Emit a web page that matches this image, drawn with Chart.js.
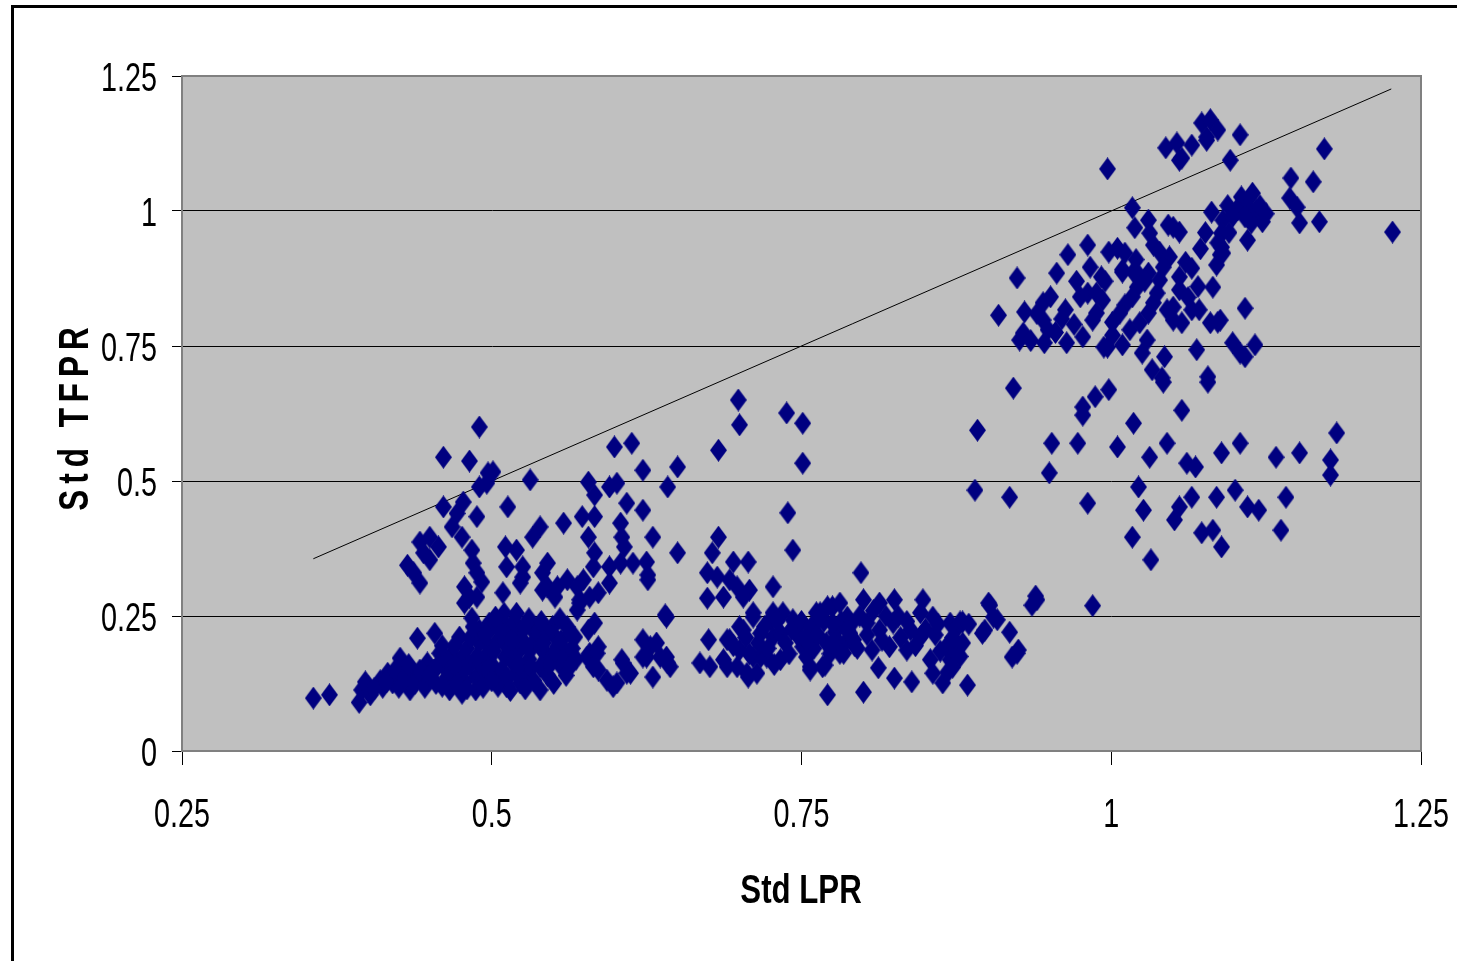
<!DOCTYPE html>
<html>
<head>
<meta charset="utf-8">
<title>Std LPR vs Std TFPR</title>
<script src="https://cdn.jsdelivr.net/npm/chart.js@4.4.1/dist/chart.umd.min.js"></script>
<style>
  html, body { margin: 0; padding: 0; background: #fff; }
  #wrap { width: 1457px; height: 961px; position: relative; }
</style>
</head>
<body>
<div id="wrap"><canvas id="chart"></canvas></div>
<script>
// axis ticks
const xTicks = [0.25, 0.5, 0.75, 1, 1.25];
const xTickLabels = ['0.25', '0.5', '0.75', '1', '1.25'];
const yTicks = [0, 0.25, 0.5, 0.75, 1, 1.25];
const yTickLabels = ['0', '0.25', '0.5', '0.75', '1', '1.25'];

// 45 degree reference line (Std TFPR = Std LPR)
const lineLpr = [0.356, 1.226];

// [Std LPR, Std TFPR], by cluster
const lowLeft = [
  [0.356,0.098],[0.369,0.104],[0.393,0.090],[0.395,0.113],[0.400,0.120],[0.402,0.104],[0.398,0.128],
  [0.410,0.130],[0.412,0.118],[0.416,0.144],[0.420,0.126],[0.426,0.172],[0.428,0.140],[0.434,0.113],
  [0.437,0.144],[0.440,0.209],[0.445,0.131],[0.448,0.163],[0.453,0.150],[0.454,0.218],[0.458,0.181],
  [0.462,0.155],[0.464,0.137],[0.466,0.113],[0.468,0.180],[0.472,0.140],[0.474,0.211],[0.476,0.174],
  [0.476,0.107],[0.405,0.115],[0.415,0.128],[0.422,0.150],[0.425,0.118],[0.430,0.135],[0.433,0.160],
  [0.438,0.125],[0.442,0.150],[0.446,0.118],[0.450,0.140],[0.455,0.125],[0.457,0.160],[0.460,0.120],
  [0.463,0.170],[0.467,0.150],[0.470,0.195],[0.460,0.195]
];
const denseBlob = [
  [0.484,0.246],[0.487,0.113],[0.487,0.137],[0.490,0.224],[0.493,0.156],[0.498,0.193],[0.498,0.237],
  [0.504,0.137],[0.505,0.206],[0.511,0.174],[0.512,0.119],[0.517,0.163],[0.509,0.239],[0.523,0.126],
  [0.523,0.218],[0.531,0.187],[0.533,0.224],[0.539,0.156],[0.539,0.113],[0.549,0.230],[0.557,0.193],
  [0.562,0.156],[0.567,0.211],[0.490,0.200],[0.500,0.160],[0.510,0.200],[0.515,0.222],[0.520,0.180],
  [0.525,0.200],[0.530,0.170],[0.535,0.205],[0.545,0.175],[0.550,0.215],[0.555,0.160],[0.545,0.140],
  [0.500,0.230],[0.495,0.175],[0.505,0.120],[0.520,0.145],[0.510,0.255],[0.530,0.245],[0.555,0.245],
  [0.480,0.190],[0.482,0.160],[0.478,0.128],[0.528,0.140],[0.515,0.190],[0.540,0.190],[0.545,0.218],
  [0.553,0.193],[0.478,0.150],[0.483,0.210],[0.488,0.175],[0.492,0.128],[0.495,0.215],[0.497,0.150],
  [0.502,0.185],[0.506,0.225],[0.508,0.150],[0.513,0.135],[0.516,0.205],[0.518,0.240],[0.522,0.160],
  [0.526,0.230],[0.528,0.195],[0.532,0.155],[0.534,0.130],[0.537,0.220],[0.542,0.200],[0.547,0.160],
  [0.551,0.185],[0.556,0.205],[0.559,0.175],[0.561,0.230],[0.565,0.190],[0.568,0.170],[0.470,0.160],
  [0.472,0.125],[0.480,0.115],[0.493,0.118],[0.500,0.130],[0.515,0.112],[0.527,0.115],[0.550,0.125],
  [0.560,0.140],[0.485,0.230],[0.503,0.248],[0.520,0.255],[0.540,0.240]
];
const lowMid = [
  [0.563,0.218],[0.563,0.156],[0.579,0.181],[0.583,0.237],[0.578,0.224],[0.586,0.193],[0.586,0.150],
  [0.593,0.131],[0.601,0.126],[0.605,0.169],[0.609,0.144],[0.622,0.206],[0.622,0.174],[0.628,0.193],
  [0.630,0.137],[0.636,0.174],[0.644,0.156],[0.640,0.252],[0.577,0.174],[0.585,0.181],[0.582,0.156],
  [0.598,0.119],[0.606,0.163],[0.612,0.144],[0.633,0.200],[0.625,0.174],[0.641,0.174],[0.642,0.163],
  [0.668,0.163],[0.675,0.206],[0.676,0.156],[0.690,0.206],[0.690,0.156],[0.700,0.230],[0.706,0.144],
  [0.711,0.256],[0.717,0.174],[0.725,0.243],[0.727,0.211],[0.733,0.169],[0.735,0.256],[0.746,0.218],
  [0.751,0.193],[0.757,0.156],[0.762,0.256],[0.711,0.248],[0.727,0.256],[0.703,0.224],[0.692,0.206],
  [0.717,0.218],[0.700,0.187],[0.711,0.174],[0.687,0.169],[0.698,0.156],[0.707,0.137],[0.714,0.144],
  [0.722,0.174],[0.733,0.218],[0.743,0.243],[0.748,0.211],[0.754,0.174],[0.767,0.156],[0.771,0.104],
  [0.765,0.256],[0.775,0.267],[0.787,0.248],[0.780,0.200],[0.789,0.218],[0.784,0.181],[0.641,0.248],
  [0.695,0.195],[0.705,0.210],[0.708,0.180],[0.715,0.200],[0.720,0.230],[0.723,0.190],[0.728,0.160],
  [0.730,0.240],[0.737,0.200],[0.740,0.180],[0.742,0.225],[0.750,0.240],[0.753,0.210],[0.758,0.230],
  [0.760,0.190],[0.763,0.215],[0.768,0.240],[0.770,0.200],[0.773,0.180],[0.777,0.220],[0.782,0.240],
  [0.785,0.200],[0.790,0.235],[0.793,0.195],[0.797,0.250]
];
const lowRight = [
  [0.798,0.330],[0.771,0.267],[0.781,0.274],[0.765,0.248],[0.800,0.280],[0.813,0.274],[0.825,0.280],
  [0.848,0.280],[0.846,0.256],[0.856,0.248],[0.870,0.237],[0.878,0.239],[0.901,0.274],[0.908,0.243],
  [0.896,0.218],[0.918,0.220],[0.924,0.181],[0.920,0.174],[0.754,0.206],[0.757,0.150],[0.769,0.159],
  [0.800,0.109],[0.781,0.181],[0.792,0.206],[0.807,0.187],[0.812,0.154],[0.821,0.193],[0.825,0.135],
  [0.835,0.187],[0.839,0.128],[0.846,0.211],[0.854,0.169],[0.856,0.144],[0.864,0.126],[0.867,0.193],
  [0.870,0.169],[0.868,0.146],[0.884,0.122],[0.775,0.237],[0.787,0.224],[0.803,0.237],[0.813,0.224],
  [0.824,0.237],[0.838,0.224],[0.775,0.200],[0.874,0.187],[0.876,0.230],[0.898,0.224],[0.902,0.270],
  [0.939,0.287],[0.940,0.280],[0.936,0.270],[0.985,0.269],[0.905,0.248],[0.925,0.187],[0.880,0.239],
  [0.795,0.190],[0.815,0.205],[0.830,0.210],[0.803,0.215],[0.808,0.260],[0.818,0.250],[0.828,0.250],
  [0.835,0.240],[0.842,0.195],[0.850,0.225],[0.858,0.215],[0.862,0.185],[0.860,0.235],[0.872,0.210],
  [0.880,0.200],[0.885,0.235],[0.872,0.155],[0.878,0.175]
];
const upperLeft = [
  [0.490,0.600],[0.461,0.544],[0.482,0.537],[0.497,0.515],[0.501,0.517],[0.490,0.489],[0.496,0.496],
  [0.531,0.502],[0.461,0.452],[0.477,0.461],[0.472,0.440],[0.488,0.434],[0.468,0.415],[0.476,0.396],
  [0.513,0.452],[0.442,0.387],[0.450,0.396],[0.457,0.378],[0.445,0.367],[0.450,0.354],[0.432,0.344],
  [0.437,0.330],[0.442,0.311],[0.484,0.372],[0.485,0.348],[0.488,0.330],[0.492,0.313],[0.478,0.304],
  [0.482,0.285],[0.478,0.274],[0.511,0.378],[0.520,0.372],[0.525,0.341],[0.512,0.341],[0.525,0.322],
  [0.509,0.293],[0.539,0.415],[0.533,0.396],[0.541,0.330],[0.545,0.304],[0.488,0.285],[0.523,0.311],
  [0.541,0.298],[0.551,0.285]
];
const upperMid = [
  [0.599,0.563],[0.613,0.570],[0.622,0.520],[0.650,0.526],[0.642,0.489],[0.683,0.557],[0.699,0.650],
  [0.700,0.604],[0.738,0.626],[0.751,0.607],[0.751,0.533],[0.578,0.498],[0.595,0.489],[0.601,0.496],
  [0.583,0.474],[0.609,0.459],[0.622,0.446],[0.558,0.422],[0.573,0.434],[0.583,0.434],[0.578,0.396],
  [0.604,0.422],[0.605,0.396],[0.607,0.378],[0.630,0.396],[0.583,0.367],[0.582,0.341],[0.650,0.367],
  [0.545,0.348],[0.553,0.304],[0.561,0.317],[0.569,0.304],[0.574,0.317],[0.571,0.274],[0.586,0.293],
  [0.579,0.285],[0.595,0.311],[0.595,0.341],[0.604,0.348],[0.614,0.348],[0.625,0.350],[0.626,0.326],
  [0.678,0.367],[0.674,0.330],[0.682,0.322],[0.695,0.350],[0.707,0.350],[0.692,0.317],[0.698,0.304],
  [0.708,0.298],[0.674,0.283],[0.687,0.285],[0.703,0.285],[0.727,0.304],[0.683,0.396],[0.739,0.441],
  [0.743,0.372],[0.571,0.280],[0.569,0.261],[0.626,0.317]
];
const rightMid = [
  [0.921,0.672],[0.892,0.594],[0.890,0.483],[0.918,0.470],[0.952,0.570],[0.950,0.515],[0.973,0.570],
  [0.981,0.459],[0.977,0.637],[0.977,0.622],[0.987,0.656],[0.998,0.669],[1.005,0.563],[1.018,0.607],
  [1.031,0.544],[1.022,0.489],[1.026,0.446],[1.017,0.396],[1.032,0.354],[1.045,0.570],[1.057,0.631],
  [1.061,0.533],[1.068,0.526],[1.065,0.470],[1.055,0.452],[1.051,0.428],[1.073,0.404],[1.082,0.409],
  [1.089,0.378],[1.089,0.552],[1.085,0.470],[1.104,0.570],[1.100,0.483],[1.110,0.452],[1.119,0.446],
  [1.133,0.544],[1.141,0.470],[1.137,0.409],[1.152,0.552],[1.182,0.589],[1.177,0.539],[1.177,0.511],
  [1.042,0.683],[1.078,0.683]
];
const upperRight = [
  [0.997,1.078],[1.044,1.117],[1.053,1.126],[1.055,1.094],[1.065,1.122],[1.077,1.131],[1.096,1.094],
  [1.017,1.006],[1.019,0.969],[1.030,0.983],[1.031,0.959],[1.046,0.974],[1.055,0.961],[1.081,0.998],
  [1.090,0.983],[1.089,0.959],[1.089,0.933],[1.088,0.919],[1.085,0.900],[1.082,0.859],[1.102,1.002],
  [1.034,0.937],[1.039,0.924],[0.981,0.937],[0.965,0.919],[0.998,0.924],[1.005,0.931],[1.011,0.922],
  [0.983,0.896],[0.992,0.878],[1.009,0.887],[1.018,0.887],[1.030,0.885],[1.047,0.915],[1.042,0.896],
  [1.039,0.872],[1.037,0.848],[1.034,0.830],[1.030,0.811],[1.023,0.793],[1.021,0.859],[1.017,0.841],
  [1.011,0.826],[1.007,0.811],[1.001,0.794],[1.001,0.770],[0.997,0.748],[1.009,0.752],[1.055,0.878],
  [1.055,0.854],[1.065,0.894],[1.045,0.817],[1.050,0.798],[1.065,0.817],[1.071,0.817],[1.080,0.793],
  [1.088,0.798],[1.098,0.756],[1.104,0.737],[1.069,0.743],[1.078,0.693],[1.029,0.761],[1.025,0.737],
  [1.043,0.730],[1.033,0.706],[1.041,0.691],[0.924,0.876],[0.909,0.807],[0.930,0.813],[0.945,0.830],
  [0.951,0.841],[0.945,0.798],[0.949,0.780],[0.946,0.756],[0.926,0.761],[0.929,0.774],[0.956,0.885],
  [0.963,0.817],[0.964,0.756],[0.977,0.767],[0.975,0.841],[0.981,0.848],[0.988,0.848],[0.993,0.835],
  [0.985,0.798],[0.988,0.811],[0.994,0.748],[1.050,0.822],[1.050,0.970],[1.009,0.891],[1.021,0.885],
  [1.073,1.163],[1.080,1.169],[1.086,1.150],[1.077,1.137],[1.104,1.141],[1.057,1.098],[1.172,1.115],
  [1.145,1.061],[1.163,1.054],[1.144,1.024],[1.150,1.007],[1.152,0.978],[1.168,0.980],[1.227,0.961],
  [1.105,1.026],[1.114,1.033],[1.110,1.007],[1.101,1.002],[1.117,1.002],[1.122,0.980],[1.113,0.978],
  [1.108,0.989],[1.110,0.946],[1.086,0.941],[1.090,0.922],[1.108,0.820],[1.086,0.794],[1.108,0.730],
  [1.116,0.752],[1.057,0.793],[1.060,0.905],[1.072,0.930],[1.076,0.960],[1.094,1.010],[1.098,0.990],
  [1.120,1.010],[1.125,0.995],[1.095,0.960],[1.070,0.860],[1.062,0.840],[1.020,0.910],[1.027,0.870],
  [0.995,0.870],[0.972,0.870],[0.960,0.800],[0.955,0.775],[0.970,0.790],[1.015,0.780],[0.940,0.810],
  [0.935,0.760]
];

const allPoints = [].concat(lowLeft, denseBlob, lowMid, lowRight, upperLeft, upperMid, rightMid, upperRight)
  .map(p => ({ x: p[0], y: p[1] }));

// Excel style diamond marker, a bit taller than wide
const diamond = document.createElement('canvas');
diamond.width = 17;
diamond.height = 23;
(() => {
  const c = diamond.getContext('2d');
  c.fillStyle = '#000080';
  c.beginPath();
  c.moveTo(8.5, 0);
  c.lineTo(17, 11.5);
  c.lineTo(8.5, 23);
  c.lineTo(0, 11.5);
  c.closePath();
  c.fill();
})();

// no narrow face installed, so squeeze Liberation Sans horizontally
const FONT = '"Liberation Sans", Arial, sans-serif';
const squeezed = (ctx, text, x, y, sx, align) => {
  ctx.save();
  ctx.translate(x, y);
  ctx.scale(sx, 1);
  ctx.textAlign = align;
  ctx.fillText(text, 0, 0);
  ctx.restore();
};

const backdrop = {
  id: 'backdrop',
  beforeDraw(chart) {
    const { ctx, chartArea: a } = chart;
    ctx.save();
    ctx.fillStyle = '#fff';
    ctx.fillRect(0, 0, chart.width, chart.height);
    // outer frame
    ctx.fillStyle = '#000';
    ctx.fillRect(11, 5, 3, chart.height - 5);
    ctx.fillRect(11, 5, chart.width - 11, 3);
    ctx.fillStyle = '#c0c0c0';
    ctx.fillRect(a.left, a.top, a.right - a.left, a.bottom - a.top);
    ctx.restore();
  },
  beforeDatasetsDraw(chart) {
    const { ctx, chartArea: a } = chart;
    ctx.save();
    ctx.strokeStyle = '#808080';
    ctx.lineWidth = 2;
    ctx.beginPath();
    ctx.moveTo(a.left, a.top);
    ctx.lineTo(a.right, a.top);
    ctx.lineTo(a.right, a.bottom);
    ctx.stroke();
    ctx.restore();
  },
  afterDraw(chart) {
    const { ctx, scales } = chart;
    ctx.save();
    ctx.fillStyle = '#000';
    ctx.textBaseline = 'alphabetic';

    ctx.font = '40px ' + FONT;
    xTicks.forEach((v, i) => {
      squeezed(ctx, xTickLabels[i], scales.x.getPixelForValue(v), 827, 0.72, 'center');
    });
    yTicks.forEach((v, i) => {
      squeezed(ctx, yTickLabels[i], 157, scales.y.getPixelForValue(v) + 14.5, 0.72, 'right');
    });

    ctx.font = 'bold 40px ' + FONT;
    squeezed(ctx, 'Std LPR', 801, 903, 0.78, 'center');

    ctx.translate(88, 419);
    ctx.rotate(-Math.PI / 2);
    ctx.font = 'bold 42px ' + FONT;
    ctx.letterSpacing = '8px';
    squeezed(ctx, 'Std TFPR', 3, 0, 0.75, 'center');
    ctx.restore();
  }
};

new Chart(document.getElementById('chart'), {
  data: {
    datasets: [
      {
        type: 'line',
        label: '45 degree',
        data: lineLpr.map(v => ({ x: v, y: v })),
        borderColor: '#000',
        borderWidth: 1,
        pointRadius: 0,
        fill: false,
        order: 2
      },
      {
        type: 'scatter',
        label: 'Std TFPR',
        data: allPoints,
        pointStyle: diamond,
        pointRadius: 9,
        order: 1
      }
    ]
  },
  options: {
    responsive: true,
    maintainAspectRatio: false,
    animation: false,
    layout: { padding: { top: 76, right: 36, left: 0, bottom: 0 } },
    plugins: {
      legend: { display: false },
      tooltip: { enabled: false }
    },
    scales: {
      x: {
        type: 'linear',
        min: 0.25,
        max: 1.25,
        afterBuildTicks: s => { s.ticks = xTicks.map(v => ({ value: v })); },
        afterFit: s => { s.height = 210; },
        ticks: { display: false },
        grid: { drawOnChartArea: false, tickColor: '#000', tickLength: 14, lineWidth: 1 },
        border: { color: '#808080', width: 2 }
      },
      y: {
        type: 'linear',
        min: 0,
        max: 1.25,
        afterBuildTicks: s => { s.ticks = yTicks.map(v => ({ value: v })); },
        afterFit: s => { s.width = 182; },
        ticks: { display: false },
        grid: {
          color: c => (c.tick && c.tick.value === 1.25 ? 'rgba(0,0,0,0)' : '#000'),
          tickColor: '#000',
          tickLength: 10,
          lineWidth: 1
        },
        border: { color: '#808080', width: 2 }
      }
    }
  },
  plugins: [backdrop]
});
</script>
</body>
</html>
